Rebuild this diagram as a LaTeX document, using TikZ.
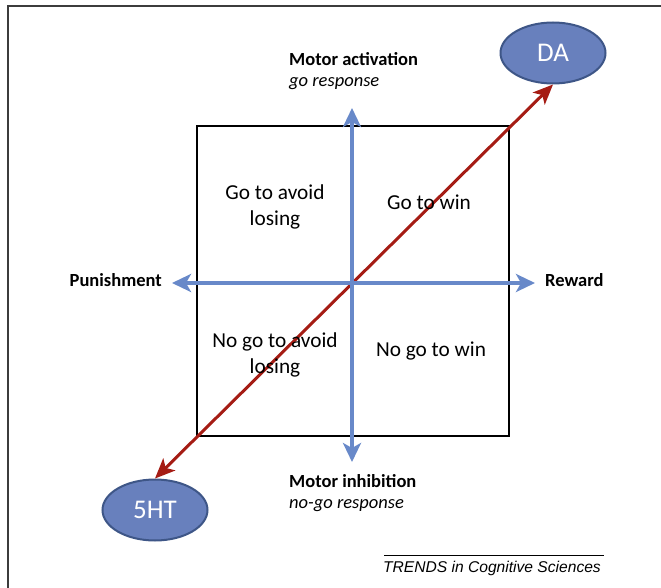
\documentclass[tikz,border=0pt]{standalone}
\usepackage{fontspec}
\setmainfont{Carlito}
\newfontfamily\arialfont{Liberation Sans}
\usetikzlibrary{arrows.meta,shapes.geometric}
\definecolor{axisblue}{RGB}{104,137,201}
\definecolor{darkred}{RGB}{165,28,20}
\definecolor{ellfill}{RGB}{104,128,189}
\definecolor{elldraw}{RGB}{62,86,135}
\definecolor{framegray}{RGB}{60,60,60}
\tikzset{
  blueaxis/.style={draw=axisblue, line width=4pt,
    {Stealth[length=19pt,width=18pt,inset=5pt]}-{Stealth[length=19pt,width=18pt,inset=5pt]}},
  redaxis/.style={draw=darkred, line width=3pt,
    {Stealth[length=20pt,width=17pt,inset=5pt]}-{Stealth[length=20pt,width=17pt,inset=5pt]}},
  transmitter/.style={ellipse, fill=ellfill, draw=elldraw, line width=2pt,
    minimum width=105pt, minimum height=61pt, inner sep=0pt,
    text=white, font=\fontsize{27}{30}\selectfont},
  quadtext/.style={align=center, font=\fontsize{21.3}{26}\selectfont},
  axislabel/.style={inner sep=0pt, font=\fontsize{18.5}{22}\selectfont\bfseries},
  sublabel/.style={inner sep=0pt, font=\fontsize{18.5}{22}\selectfont\itshape}
}
\begin{document}
\begin{tikzpicture}[x=1pt,y=-1pt]
\useasboundingbox (0,0) rectangle (661,588);
\clip (0,0) rectangle (661,588);
% outer frame
\draw[framegray, line width=2pt] (8,600) -- (8,6) -- (680,6);
% square
\draw[black, line width=1.5pt] (197,126) rectangle (509,436);
% transmitters
\node[transmitter] (DA) at (553,53) {DA};
\node[transmitter] (HT) at (155,510) {5HT};
% red axis
\draw[redaxis] (HT.north) -- (DA.south);
% blue axes
\coordinate (top) at (352,108);
\coordinate (bottom) at (352,462);
\coordinate (left) at (172,283);
\coordinate (right) at (535,283);
\draw[blueaxis] (bottom) -- (top);
\draw[blueaxis] (left) -- (right);
% axis labels
\node[axislabel, anchor=base west] (ma) at (289,66) {Motor activation};
\node[sublabel, anchor=base west] (gr) at (289,87) {go response};
\node[axislabel, anchor=base west] (mi) at (289,487) {Motor inhibition};
\node[sublabel, anchor=base west] (ngr) at (289,508) {no-go response};
\node[axislabel, anchor=base east] (pun) at (162,286) {Punishment};
\node[axislabel, anchor=base west] (rew) at (545,286) {Reward};
% quadrants
\node[quadtext] (q1) at (275,207) {Go to avoid\\losing};
\node[quadtext] (q2) at (429,202) {Go to win};
\node[quadtext] (q3) at (275,355) {No go to avoid\\losing};
\node[quadtext] (q4) at (431,351) {No go to win};
% journal
\draw[black, line width=0.8pt] (384,555) -- (604,555);
\node[inner sep=0pt, anchor=base west, font=\arialfont\itshape\fontsize{15.6}{18}\selectfont] (trends) at (383,572) {TRENDS in Cognitive Sciences};
\end{tikzpicture}
\end{document}
